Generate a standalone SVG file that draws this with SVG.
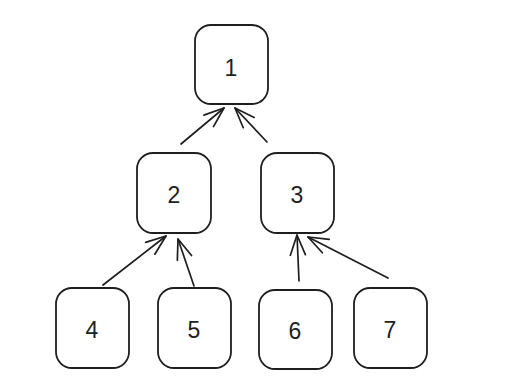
<svg xmlns="http://www.w3.org/2000/svg" width="513" height="390" viewBox="0 0 513 390">
<style>
.box{fill:#ffffff;stroke:#1e1e1e;stroke-width:1.8}
.lbl{font-family:"Liberation Sans","DejaVu Sans",sans-serif;font-size:23px;fill:#1e1e1e;text-anchor:middle}
.edge{fill:none;stroke:#1e1e1e;stroke-width:1.7;stroke-linecap:round;marker-end:url(#arr)}
</style>
<defs>
<marker id="arr" markerUnits="userSpaceOnUse" markerWidth="40" markerHeight="40" refX="0" refY="0" viewBox="-30 -20 40 40" orient="auto" overflow="visible">
<path d="M -20,-7.5 L 0,0 L -20,7.5" fill="none" stroke="#1e1e1e" stroke-width="1.7" stroke-linecap="round" stroke-linejoin="round"/>
</marker>
</defs>
<rect width="513" height="390" fill="#ffffff"/>
<g id="connectors">
<path class="edge" d="M181,144 L224,108"/>
<path class="edge" d="M267,142 L235,108"/>
<path class="edge" d="M103,285 L166,236"/>
<path class="edge" d="M194,286 L178,239"/>
<path class="edge" d="M299,281 L297,235"/>
<path class="edge" d="M388,278 L308,237"/>
</g>
<g id="node1"><rect class="box" x="195" y="25" width="73" height="79" rx="16"/><text class="lbl" x="231" y="76">1</text></g>
<g id="node2"><rect class="box" x="137" y="153" width="74" height="80" rx="16"/><text class="lbl" x="174" y="203">2</text></g>
<g id="node3"><rect class="box" x="261" y="153" width="73" height="80" rx="16"/><text class="lbl" x="297" y="203">3</text></g>
<g id="node4"><rect class="box" x="56" y="288" width="73" height="80" rx="16"/><text class="lbl" x="92" y="338">4</text></g>
<g id="node5"><rect class="box" x="158" y="288" width="73" height="80" rx="16"/><text class="lbl" x="194" y="338">5</text></g>
<g id="node6"><rect class="box" x="259" y="290" width="73" height="79" rx="16"/><text class="lbl" x="295" y="339">6</text></g>
<g id="node7"><rect class="box" x="354" y="288" width="73" height="80" rx="16"/><text class="lbl" x="390" y="338">7</text></g>
</svg>
